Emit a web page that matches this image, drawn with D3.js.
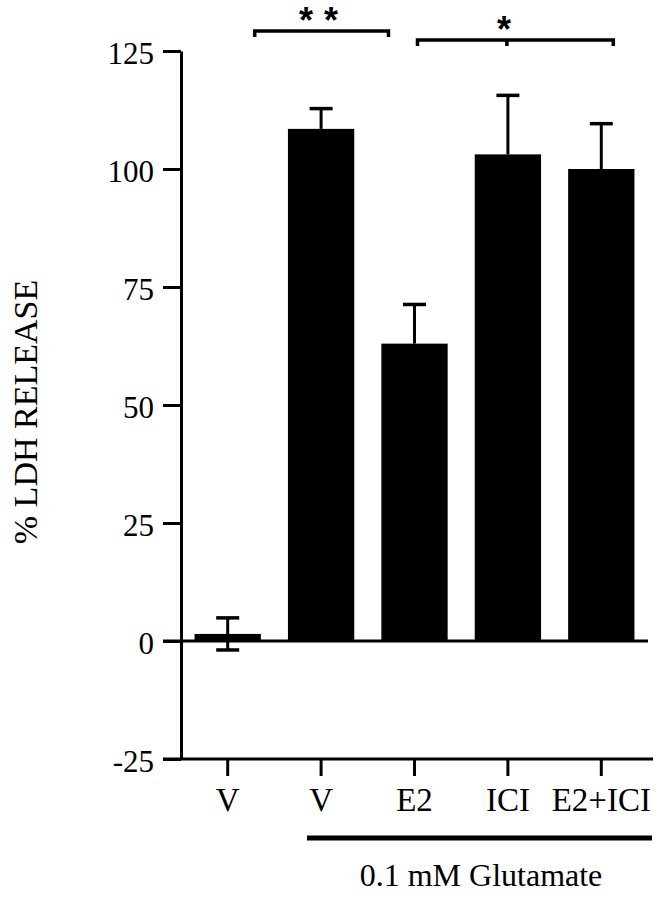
<!DOCTYPE html>
<html>
<head>
<meta charset="utf-8">
<script src="https://cdn.jsdelivr.net/npm/d3@7"></script>
<style>
	body { margin: 0; background: #fff; }
	svg text { font-family: 'Liberation Serif', 'Times New Roman', serif; fill: #000; }
</style>
</head>
<body>
<div id="chart"></div>
<script>
// data
const categories = ['V', 'V ', 'E2', 'ICI', 'E2+ICI'];
const tickLabels = ['V', 'V', 'E2', 'ICI', 'E2+ICI'];
const values = [1.5, 108.5, 63.0, 103.1, 100.0];
const errors = [3.4, 4.3, 8.3, 12.5, 9.6];
const yTicks = [-25, 0, 25, 50, 75, 100, 125];

const width = 659, height = 899;

const svg = d3.select('#chart').append('svg')
	.attr('width', width)
	.attr('height', height);

// scales
const y = d3.scaleLinear().domain([-25, 125]).range([759, 51]);
const x = d3.scaleBand().domain(categories).range([181, 648])
	.paddingInner(0.29).paddingOuter(0.145);
const cx = (d) => x(d) + x.bandwidth() / 2;

// bars
svg.selectAll('.bar')
	.data(categories)
	.enter()
	.append('rect')
	.attr('class', 'bar')
	.attr('x', (d) => x(d))
	.attr('y', (d, i) => y(Math.max(0, values[i])))
	.attr('width', x.bandwidth())
	.attr('height', (d, i) => Math.abs(y(values[i]) - y(0)))
	.attr('fill', '#000');

// zero line
svg.append('line')
	.attr('x1', 163).attr('x2', 648)
	.attr('y1', y(0)).attr('y2', y(0))
	.attr('stroke', '#000').attr('stroke-width', 3);

// error bars (upward; the first one both ways)
const capW = 23;
categories.forEach((c, i) => {
	const lo = i === 0 ? values[i] - errors[i] : values[i];
	const hi = values[i] + errors[i];
	const g = svg.append('g').attr('class', 'err');
	g.append('line')
		.attr('x1', cx(c)).attr('x2', cx(c))
		.attr('y1', y(lo)).attr('y2', y(hi))
		.attr('stroke', '#000').attr('stroke-width', 3);
	g.append('line')
		.attr('x1', cx(c) - capW / 2).attr('x2', cx(c) + capW / 2)
		.attr('y1', y(hi)).attr('y2', y(hi))
		.attr('stroke', '#000').attr('stroke-width', 3.5);
	if (i === 0) {
		g.append('line')
			.attr('x1', cx(c) - capW / 2).attr('x2', cx(c) + capW / 2)
			.attr('y1', y(lo)).attr('y2', y(lo))
			.attr('stroke', '#000').attr('stroke-width', 3.5);
	}
});

// y axis
const yAxis = svg.append('g')
	.attr('transform', 'translate(181,0)')
	.call(d3.axisLeft(y).tickValues(yTicks).tickSize(18).tickSizeOuter(0).tickPadding(9).tickFormat((d) => String(d)));
yAxis.select('.domain').attr('stroke-width', 3);
yAxis.selectAll('.tick line').attr('stroke-width', 3);
yAxis.selectAll('.tick text')
	.style('font-family', "'Liberation Serif', serif")
	.attr('font-size', 31)
	.attr('dy', '0.4em');

// x axis at -25
svg.append('line')
	.attr('x1', 163).attr('x2', 653)
	.attr('y1', y(-25)).attr('y2', y(-25))
	.attr('stroke', '#000').attr('stroke-width', 3);
const xAxis = svg.append('g')
	.attr('transform', `translate(0,${y(-25)})`)
	.call(d3.axisBottom(x).tickSize(17).tickSizeOuter(0).tickPadding(12).tickFormat((d, i) => tickLabels[i]));
xAxis.select('.domain').remove();
xAxis.selectAll('.tick line').attr('stroke-width', 3);
xAxis.selectAll('.tick text')
	.style('font-family', "'Liberation Serif', serif")
	.attr('font-size', 33);

// y label
svg.append('text')
	.attr('transform', 'translate(25,412) rotate(-90)')
	.attr('text-anchor', 'middle')
	.attr('dominant-baseline', 'central')
	.attr('font-size', 34)
	.text('% LDH RELEASE');

// glutamate bar
svg.append('line')
	.attr('x1', 307).attr('x2', 652)
	.attr('y1', 838).attr('y2', 838)
	.attr('stroke', '#000').attr('stroke-width', 5);
svg.append('text')
	.attr('x', 481).attr('y', 886)
	.attr('text-anchor', 'middle')
	.attr('font-size', 32)
	.text('0.1 mM Glutamate');

// significance brackets
function bracket(x1, x2, yy, mid) {
	const g = svg.append('g');
	g.append('path')
		.attr('d', `M${x1},${yy + 6}V${yy}H${x2}V${yy + 6}` + (mid ? `M${mid},${yy}V${yy + 6}` : ''))
		.attr('fill', 'none')
		.attr('stroke', '#000')
		.attr('stroke-width', 3.5);
	return g;
}
bracket(cx(categories[0]) + 27, cx(categories[2]) - 26, 31);
bracket(cx(categories[2]) + 3, cx(categories[4]) + 12, 40, cx(categories[3]) - 1);

const star = (sx, sy) => svg.append('text')
	.attr('x', sx).attr('y', sy)
	.attr('text-anchor', 'middle')
	.style('font-family', "'Liberation Sans', Arial, sans-serif")
	.attr('font-weight', 'bold')
	.attr('font-size', 36)
	.text('*');
star(306, 33);
star(331, 33);
star(504, 42);
</script>
</body>
</html>
